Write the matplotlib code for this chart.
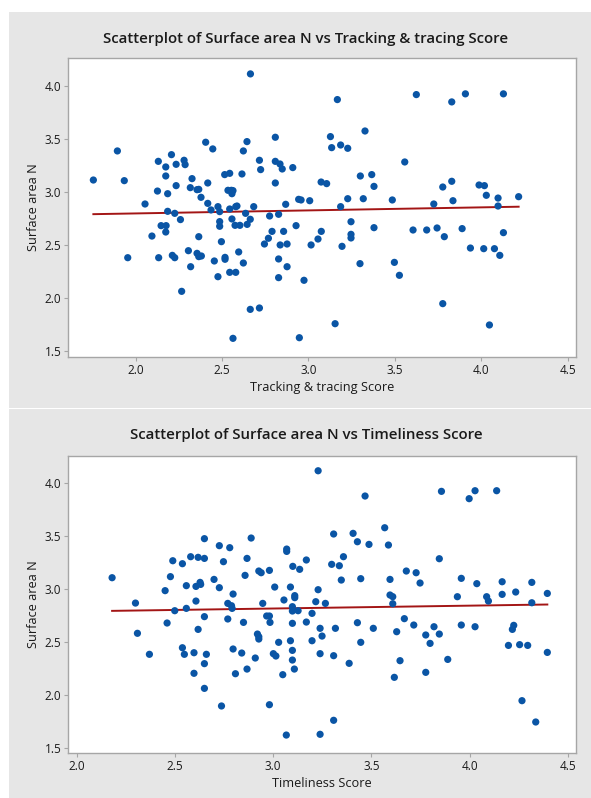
import numpy as np
import matplotlib
matplotlib.use("Agg")
import matplotlib.pyplot as plt
from matplotlib.patches import Rectangle

plt.rcParams['font.family'] = ['Open Sans', 'DejaVu Sans']

# ---------------- data ----------------
tracking_score = [
    1.756, 1.895, 1.935, 2.132, 2.175, 2.208, 2.235, 2.281, 2.287, 2.175, 2.235, 2.127, 2.186, 2.327,
    2.317, 2.356, 2.366, 2.379, 2.406, 2.447, 2.418, 2.516, 2.545, 2.616, 2.535, 2.555, 2.564, 2.558,
    2.624, 2.645, 2.665, 2.717, 2.724, 2.809, 2.809, 2.836, 2.849, 2.809, 2.910, 2.944, 2.958,
    3.074, 3.106, 3.168, 3.128, 3.135, 3.187, 3.228, 3.328, 3.301, 3.367, 3.380, 3.228, 3.318, 3.486,
    3.558, 3.625, 3.830, 3.909, 4.129, 3.778, 3.830, 3.837, 3.988, 4.019, 4.030, 4.098, 4.217, 3.008,
    3.187, 3.726, 4.098, 3.247, 3.380, 3.075, 3.056, 3.016, 3.247, 3.247, 3.195, 3.299, 3.498, 3.527,
    3.606, 3.685, 3.745, 3.787, 3.890, 3.938, 4.015, 4.077, 4.108, 4.129, 2.975, 3.778, 3.155, 4.048,
    2.055, 2.418, 2.477, 2.437, 2.487, 2.545, 2.580, 2.587, 2.684, 2.869, 2.186, 2.227, 2.148, 2.177,
    2.175, 2.260, 2.095, 2.487, 2.487, 2.558, 2.576, 2.604, 2.637, 2.646, 2.664, 2.776, 2.828, 2.790,
    2.857, 2.929, 2.769, 2.746, 2.837, 2.877, 2.366, 2.497, 1.955, 2.134, 2.213, 2.227, 2.306, 2.319,
    2.356, 2.366, 2.381, 2.456, 2.518, 2.518, 2.597, 2.624, 2.477, 2.545, 2.580, 2.828, 2.877, 2.828,
    2.267, 2.664, 2.717, 2.564, 2.948,
]
surface_top = [
    3.113, 3.387, 3.107, 3.289, 3.236, 3.352, 3.261, 3.299, 3.258, 3.151, 3.060, 3.009, 2.984, 3.126,
    3.041, 3.022, 3.025, 2.950, 3.469, 3.406, 3.085, 3.164, 3.176, 3.170, 3.016, 3.016, 3.013, 2.984,
    3.387, 3.475, 4.113, 3.299, 3.211, 3.516, 3.289, 3.264, 3.217, 3.085, 3.230, 2.931, 2.925,
    3.094, 3.079, 3.871, 3.522, 3.418, 3.443, 3.412, 3.575, 3.151, 3.164, 3.053, 2.937, 2.937, 2.925,
    3.283, 3.918, 3.849, 3.925, 3.925, 3.047, 3.101, 2.918, 3.066, 3.060, 2.969, 2.943, 2.956, 2.918,
    2.862, 2.887, 2.868, 2.720, 2.664, 2.629, 2.557, 2.501, 2.601, 2.567, 2.488, 2.325, 2.337, 2.215,
    2.642, 2.642, 2.661, 2.579, 2.655, 2.472, 2.466, 2.466, 2.403, 2.617, 2.168, 1.948, 1.759, 1.747,
    2.887, 2.893, 2.862, 2.831, 2.815, 2.840, 2.862, 2.868, 2.862, 2.884, 2.818, 2.799, 2.683, 2.683,
    2.623, 2.740, 2.585, 2.721, 2.677, 2.746, 2.686, 2.686, 2.799, 2.695, 2.743, 2.774, 2.790, 2.629,
    2.629, 2.683, 2.564, 2.510, 2.501, 2.510, 2.579, 2.532, 2.381, 2.381, 2.403, 2.381, 2.447, 2.296,
    2.422, 2.391, 2.397, 2.350, 2.384, 2.366, 2.435, 2.331, 2.202, 2.243, 2.243, 2.369, 2.296, 2.193,
    2.064, 1.894, 1.907, 1.621, 1.627,
]

timeliness_score = [
    2.180, 2.477, 2.489, 2.538, 2.580, 2.618, 2.650, 2.650, 2.558, 2.607, 2.628, 2.631, 2.699, 2.726,
    2.747, 2.779, 2.726, 2.857, 2.867, 2.888, 2.927, 2.939, 2.981, 3.008, 3.069, 3.069, 3.100, 3.088,
    3.135,
    3.169, 3.229, 3.229, 3.468, 3.308, 3.407, 3.429, 3.488, 3.568, 3.587, 3.298, 3.337, 3.358, 3.347,
    3.446, 3.595, 3.678, 3.728, 3.748, 3.846, 3.857, 3.998, 4.028, 4.138, 3.958, 4.037, 4.166, 4.317,
    2.299, 2.450, 2.499, 2.558, 2.607, 2.650, 2.796, 2.769, 2.788, 2.791, 2.769, 2.947, 3.055, 3.110,
    3.110, 3.098, 3.098, 3.127, 2.967, 2.981, 2.984, 3.098, 2.849, 2.460, 2.618, 2.309, 2.370, 2.538,
    2.548, 2.597, 2.660, 2.597, 2.650, 2.650, 2.796, 2.840, 2.808, 2.867, 2.909, 2.920, 2.927, 2.927,
    3.001, 3.014, 3.028, 3.088, 3.098, 3.098, 3.108, 3.049, 2.737, 2.981, 3.067,
    3.217, 3.266, 3.198, 3.169, 3.239, 3.249, 3.198, 3.239, 3.308, 3.317, 3.429, 3.446, 3.387, 3.510,
    3.595, 3.609, 3.609, 3.668, 3.629, 3.646, 3.617, 3.716, 3.777, 3.819, 3.846, 3.799, 3.777, 3.889,
    3.938, 3.958, 4.028, 4.087, 4.096, 4.166, 4.235, 4.396, 4.317, 4.218, 4.225, 4.198, 4.255, 4.296,
    4.396, 4.267, 4.337, 3.308, 3.239,
]
surface_bottom = [
    3.106, 3.116, 3.266, 3.238, 3.304, 3.298, 3.474, 3.288, 3.031, 3.024, 3.062, 3.043, 3.090, 3.408,
    3.257, 3.389, 3.012, 3.128, 3.288, 3.480, 3.169, 3.153, 3.175, 3.018, 3.376, 3.354, 3.213, 3.018,
    3.185,
    3.273, 4.114, 2.993, 3.876, 3.518, 3.524, 3.445, 3.420, 3.577, 3.414, 3.232, 3.219, 3.304, 3.084,
    3.097, 3.090, 3.169, 3.153, 3.056, 3.285, 3.920, 3.851, 3.926, 3.926, 3.100, 3.050, 3.068, 3.062,
    2.867, 2.984, 2.795, 2.817, 2.886, 2.739, 2.952, 2.864, 2.842, 2.817, 2.717, 2.864, 2.896, 2.937,
    2.918, 2.833, 2.792, 2.795, 2.745, 2.745, 2.685, 2.676, 2.685, 2.679, 2.619, 2.582, 2.384, 2.446,
    2.384, 2.399, 2.384, 2.205, 2.296, 2.063, 2.434, 2.396, 2.201, 2.245, 2.349, 2.575, 2.550, 2.528,
    2.390, 2.368, 2.497, 2.512, 2.421, 2.330, 2.245, 2.192, 1.897, 1.909, 1.623,
    2.880, 2.864, 2.770, 2.688, 2.629, 2.556, 2.512, 2.390, 2.371, 2.629, 2.682, 2.497, 2.299, 2.629,
    2.943, 2.927, 2.861, 2.720, 2.597, 2.324, 2.167, 2.660, 2.566, 2.644, 2.575, 2.487, 2.214, 2.336,
    2.927, 2.660, 2.644, 2.927, 2.886, 2.949, 2.971, 2.958, 2.870, 2.619, 2.657, 2.468, 2.475, 2.468,
    2.402, 1.947, 1.746, 1.762, 1.630,
]

titles = ["Scatterplot of Surface area N vs Tracking & tracing Score",
          "Scatterplot of Surface area N vs Timeliness Score"]
x_labels = ["Tracking & tracing Score", "Timeliness Score"]
y_label = "Surface area N"
x_ticks = [2.0, 2.5, 3.0, 3.5, 4.0, 4.5]
y_ticks = [1.5, 2.0, 2.5, 3.0, 3.5, 4.0]

# ---------------- figure ----------------
W, H = 591, 798
fig = plt.figure(figsize=(W / 100, H / 100), dpi=100)
fig.patch.set_facecolor('white')

panel_col = '#e6e6e6'

# background axis covering the whole figure, for the grey panels
bg = fig.add_axes([0, 0, 1, 1], zorder=-10)
bg.set_xlim(0, W)
bg.set_ylim(H, 0)
bg.axis('off')
bg.add_patch(Rectangle((9, 12), W - 9, 407.5 - 12, facecolor=panel_col, edgecolor='none'))
bg.add_patch(Rectangle((9, 409), W - 9, H - 409, facecolor=panel_col, edgecolor='none'))

blue = '#0a55a5'
red = '#a31515'
frame = '#a6a6a6'
txt = '#1a1a1a'

panels = [
    dict(x=tracking_score, y=surface_top, top=58.3, bottom=356.7,
         xlim=(1.611, 4.549), ylim=(1.448, 4.260), title_y=39),
    dict(x=timeliness_score, y=surface_bottom, top=455.7, bottom=753.3,
         xlim=(1.957, 4.542), ylim=(1.451, 4.256), title_y=435),
]

left_px, right_px = 68.3, 576.0
for i, p in enumerate(panels):
    ax = fig.add_axes([left_px / W, 1 - p['bottom'] / H,
                       (right_px - left_px) / W, (p['bottom'] - p['top']) / H])
    ax.set_facecolor('white')
    xs = np.asarray(p['x'])
    ys = np.asarray(p['y'])
    ax.scatter(xs, ys, s=27, color=blue, edgecolors='none', zorder=3)
    slope, intercept = np.polyfit(xs, ys, 1)
    xl = np.array([xs.min(), xs.max()])
    ax.plot(xl, intercept + slope * xl, color=red, lw=1.4, zorder=2)
    ax.set_xlim(*p['xlim'])
    ax.set_ylim(*p['ylim'])
    ax.set_xticks(x_ticks)
    ax.set_yticks(y_ticks)
    ax.set_xticklabels([f"{t:.1f}" for t in x_ticks])
    ax.set_yticklabels([f"{t:.1f}" for t in y_ticks])
    for s in ax.spines.values():
        s.set_color(frame)
        s.set_linewidth(1.0)
    ax.tick_params(axis='both', direction='out', length=3, width=0.8,
                   color=frame, labelsize=8.5, labelcolor=txt, pad=2)
    ax.set_xlabel(x_labels[i], fontsize=9.2, color=txt, labelpad=3)
    ax.set_ylabel(y_label, fontsize=9.2, color=txt, labelpad=3)
    fig.text(306 / W, 1 - p['title_y'] / H, titles[i], ha='center', va='center',
             fontsize=10.85, fontweight='semibold', color=txt)

fig.savefig('out.png', dpi=100, facecolor=fig.get_facecolor())
